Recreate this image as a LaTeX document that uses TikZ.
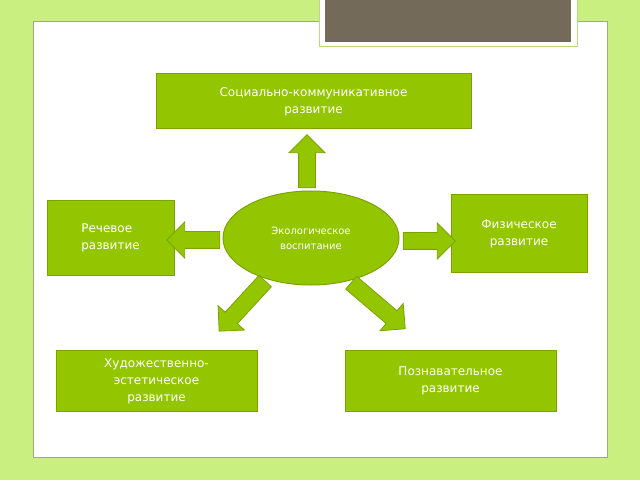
\documentclass[tikz,border=0pt]{standalone}
\usepackage{fontspec}
\setmainfont{DejaVu Sans}
\usetikzlibrary{shapes.geometric,shapes.arrows}
\definecolor{bg}{HTML}{C8EF80}
\definecolor{gfill}{HTML}{94C600}
\definecolor{gline}{HTML}{7AA300}
\definecolor{tabg}{HTML}{736A5A}
\tikzset{
  box/.style={draw=gline,line width=1pt,fill=gfill,text=white,font=\fontsize{12}{17}\selectfont,align=center,inner sep=2pt},
  barrow/.style={single arrow,draw=gline,line width=0.8pt,fill=gfill,inner xsep=0pt,inner ysep=8pt,text height=0pt,text depth=0pt,single arrow head extend=9.5pt,single arrow head indent=0pt,anchor=center}
}
\begin{document}
\begin{tikzpicture}[x=1pt,y=1pt]
\useasboundingbox (0,0) rectangle (640,480);
\fill[bg] (0,0) rectangle (640,480);
\draw[fill=white,draw=gray!60!bg,line width=1pt] (33,23) rectangle (607,458);
\draw[fill=white,draw=bg!80!gray,line width=1pt] (319,480) rectangle (577,433);
\fill[tabg] (325,480) rectangle (571,438);
\node[box,minimum width=315pt,minimum height=55pt] (soc) at (313.5,378.5) {Социально-коммуникативное\\развитие};
\node[ellipse,draw=gline,line width=1pt,fill=gfill,text=white,minimum width=176pt,minimum height=94pt,inner sep=0pt,align=center,font=\fontsize{10}{15}\selectfont] (eco) at (311,242) {Экологическое\\воспитание};
\node[box,minimum width=127pt,minimum height=74pt,align=left] (rech) at (110.5,242) {Речевое\\развитие};
\node[box,minimum width=136pt,minimum height=77pt] (fiz) at (519,246.5) {Физическое\\развитие};
\node[box,minimum width=201pt,minimum height=61pt,anchor=north] (hud) at (156.5,130) {Художественно-\\эстетическое\\развитие};
\node[box,minimum width=211pt,minimum height=61pt,anchor=north] (poz) at (450.5,130) {Познавательное\\развитие};
\node[barrow,minimum height=53pt,rotate=90] (a1) at (307,314.5) {};
\node[barrow,minimum height=53pt,rotate=180] (a2) at (197.5,240) {};
\node[barrow,minimum height=52pt] (a3) at (425,239) {};
\node[barrow,minimum height=68pt,rotate=227.4] (a4) at (245,177) {};
\node[barrow,minimum height=71pt,rotate=-40.4] (a5) at (375,177) {};
\end{tikzpicture}
\end{document}
